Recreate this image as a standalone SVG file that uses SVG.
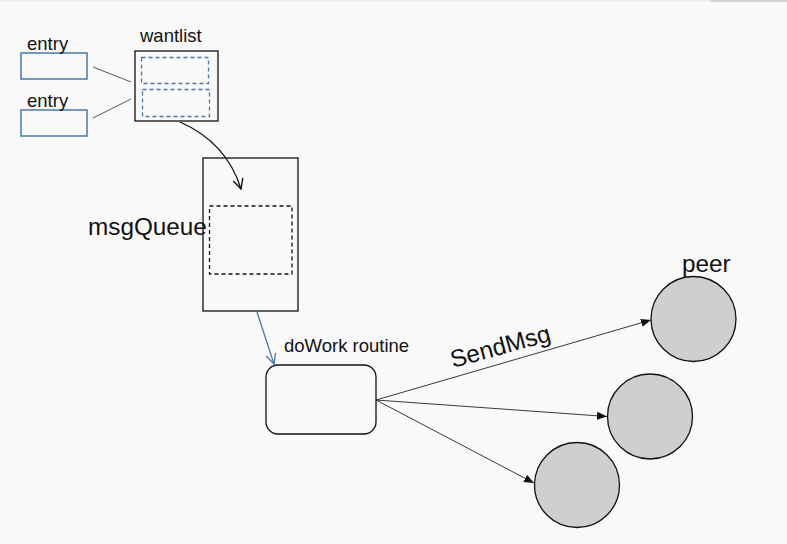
<svg xmlns="http://www.w3.org/2000/svg" width="787" height="544" viewBox="0 0 787 544">
<defs>
<style>
text{font-family:"Liberation Sans",Arial,sans-serif;fill:#111}
.box{fill:none;stroke:#111;stroke-width:1.3}
.entry{fill:none;stroke:#4a78aa;stroke-width:1.5}
.dash{fill:none;stroke:#4a78aa;stroke-width:1.3;stroke-dasharray:4 3}
.kdash{fill:none;stroke:#111;stroke-width:1.3;stroke-dasharray:4 3}
.peer{fill:#d0cfcf;stroke:#111;stroke-width:1.3}
.thin{fill:none;stroke:#444;stroke-width:0.9}
.edge{fill:none;stroke:#222;stroke-width:0.9}
.s{font-size:18.5px}
.l{font-size:24.3px}
</style>
<marker id="tri" viewBox="0 0 10 10" refX="10" refY="5" markerWidth="10" markerHeight="10" markerUnits="userSpaceOnUse" orient="auto">
<path d="M0,1 L10,5 L0,9 Z" fill="#111"/>
</marker>
<marker id="openk" viewBox="0 0 12 12" refX="11" refY="6" markerWidth="12" markerHeight="12" markerUnits="userSpaceOnUse" orient="auto">
<path d="M1,1 L11,6 L1,11" fill="none" stroke="#111" stroke-width="1.4"/>
</marker>
<marker id="openb" viewBox="0 0 12 12" refX="11" refY="6" markerWidth="12" markerHeight="12" markerUnits="userSpaceOnUse" orient="auto">
<path d="M1,1 L11,6 L1,11" fill="none" stroke="#4a78aa" stroke-width="1.3"/>
</marker>
</defs>
<rect x="0" y="0" width="787" height="544" fill="#f9f9f9"/>
<rect x="0" y="0" width="711" height="2" fill="#eeeeee"/>
<rect x="711" y="0" width="76" height="2" fill="#d4d4d4"/>

<g id="entry1">
<rect class="entry" x="21" y="53" width="66" height="26"/>
<text class="s" x="27" y="50">entry</text>
</g>
<g id="entry2">
<rect class="entry" x="21" y="110" width="66" height="26"/>
<text class="s" x="27" y="107">entry</text>
</g>
<g id="wantlist">
<rect class="box" x="135" y="51" width="83" height="70"/>
<rect class="dash" x="141.5" y="57.5" width="67" height="26"/>
<rect class="dash" x="142.5" y="89.5" width="67" height="27"/>
<text class="s" x="140" y="42">wantlist</text>
</g>
<g id="msgQueue">
<rect class="box" x="203" y="158" width="95" height="153"/>
<rect class="kdash" x="209.5" y="206" width="82.5" height="68"/>
<text class="l" x="88" y="235">msgQueue</text>
</g>
<g id="doWork">
<rect class="box" x="266" y="365" width="110" height="69" rx="12"/>
<text class="s" x="284" y="352">doWork routine</text>
</g>
<g id="peer1">
<circle class="peer" cx="693.5" cy="319" r="42.5"/>
<text class="l" x="682" y="272">peer</text>
</g>
<g id="peer2">
<circle class="peer" cx="650" cy="416.5" r="42.5"/>
</g>
<g id="peer3">
<circle class="peer" cx="577" cy="485" r="42.5"/>
</g>

<g id="connectors">
<line class="thin" x1="93" y1="67" x2="131" y2="82"/>
<line class="thin" x1="93" y1="118" x2="131" y2="99"/>
<path d="M180,122 C212,136 232,160 241,189" fill="none" stroke="#111" stroke-width="1.3" marker-end="url(#openk)"/>
<line x1="257" y1="312" x2="274" y2="364" stroke="#4a78aa" stroke-width="1.3" marker-end="url(#openb)"/>
<line class="edge" x1="376" y1="400" x2="651" y2="320" marker-end="url(#tri)"/>
<line class="edge" x1="376" y1="400" x2="607" y2="416.5" marker-end="url(#tri)"/>
<line class="edge" x1="376" y1="400" x2="534" y2="483" marker-end="url(#tri)"/>
<text class="l" x="453" y="368" transform="rotate(-15.5 453 368)">SendMsg</text>
</g>
</svg>
